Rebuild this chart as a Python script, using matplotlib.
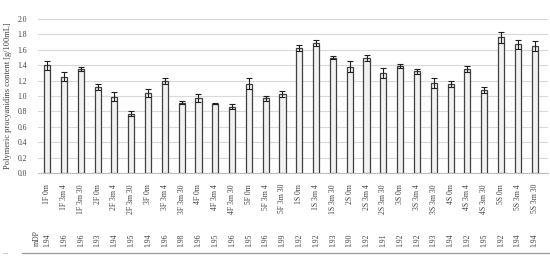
import matplotlib

matplotlib.use("Agg")
import matplotlib.pyplot as plt
import numpy as np

# veriler
etiketler = [
    "1F 0m", "1F 3m 4", "1F 3m 30", "2F 0m", "2F 3m 4", "2F 3m 30",
    "3F 0m", "3F 3m 4", "3F 3m 30", "4F 0m", "4F 3m 4", "4F 3m 30",
    "5F 0m", "5F 3m 4", "5F 3m 30", "1S 0m", "1S 3m 4", "1S 3m 30",
    "2S 0m", "2S 3m 4", "2S 3m 30", "3S 0m", "3S 3m 4", "3S 3m 30",
    "4S 0m", "4S 3m 4", "4S 3m 30", "5S 0m", "5S 3m 4", "5S 3m 30",
]
degerler = [
    1.40, 1.25, 1.35, 1.12, 0.99, 0.77, 1.04, 1.20, 0.91, 0.97,
    0.90, 0.86, 1.16, 0.97, 1.03, 1.62, 1.69, 1.50, 1.38, 1.49,
    1.30, 1.39, 1.32, 1.17, 1.16, 1.35, 1.08, 1.76, 1.67, 1.65,
]
hatalar = [
    0.06, 0.06, 0.03, 0.04, 0.06, 0.03, 0.05, 0.04, 0.02, 0.05,
    0.01, 0.03, 0.07, 0.03, 0.04, 0.04, 0.04, 0.02, 0.07, 0.04,
    0.07, 0.03, 0.03, 0.06, 0.04, 0.04, 0.04, 0.07, 0.06, 0.06,
]
mdp = [
    "1.94", "1.96", "1.96", "1.93", "1.94", "1.95", "1.94", "1.96", "1.98", "1.96",
    "1.95", "1.96", "1.95", "1.96", "1.99", "1.92", "1.92", "1.93", "1.90", "1.92",
    "1.91", "1.92", "1.92", "1.93", "1.94", "1.92", "1.95", "1.92", "1.94", "1.94",
]

plt.rcParams["font.family"] = ["Liberation Serif", "DejaVu Serif"]

fig = plt.figure(figsize=(5.5, 2.59), dpi=100)
ax = fig.add_axes([38 / 550, 1 - 173 / 259, 510 / 550, 154 / 259])

x = np.arange(len(etiketler))
ax.bar(x, degerler, 0.36, color="#f2f2f2", edgecolor="#404040", linewidth=0.9,
       yerr=hatalar, capsize=2,
       error_kw={"elinewidth": 0.8, "capthick": 0.8, "ecolor": "#202020"}, zorder=3)

ax.set_xlim(-0.55, 29.8)
ax.set_ylim(0, 2.0)
ax.set_yticks(np.arange(0, 2.01, 0.2))
ax.set_yticklabels([f"{v:.1f}" for v in np.arange(0, 2.01, 0.2)], fontsize=5.5, color="#404040")
ax.grid(axis="y", color="#d9d9d9", linewidth=0.8, zorder=0)
ax.set_xticks(x)
ax.set_xticklabels(etiketler, rotation=90, fontsize=5.5, color="#404040")
ax.tick_params(length=0, pad=8)
for s in ["top", "right", "left"]:
    ax.spines[s].set_visible(False)
ax.spines["bottom"].set_color("#bfbfbf")
ax.set_ylabel("Polymeric procyanidins content [g/100mL]", fontsize=6, color="#404040")

# mDP satırı
fig.text(37 / 550, 1 - 238 / 259, "mDP", rotation=90, fontsize=5.5,
         ha="center", va="center", color="#404040")
for i, m in enumerate(mdp):
    xp = ax.transData.transform((i, 0))[0] / fig.bbox.width
    fig.text(xp, 1 - 240 / 259, m, rotation=90, fontsize=5.5,
             ha="center", va="center", color="#404040")

fig.add_artist(plt.Line2D([22 / 550, 1], [1 - 253 / 259] * 2, color="#a0a0a0", linewidth=1))
fig.add_artist(plt.Line2D([3 / 550, 7 / 550], [1 - 253 / 259] * 2, color="#c0c0c0", linewidth=0.6))

fig.savefig("out.png", dpi=100)
